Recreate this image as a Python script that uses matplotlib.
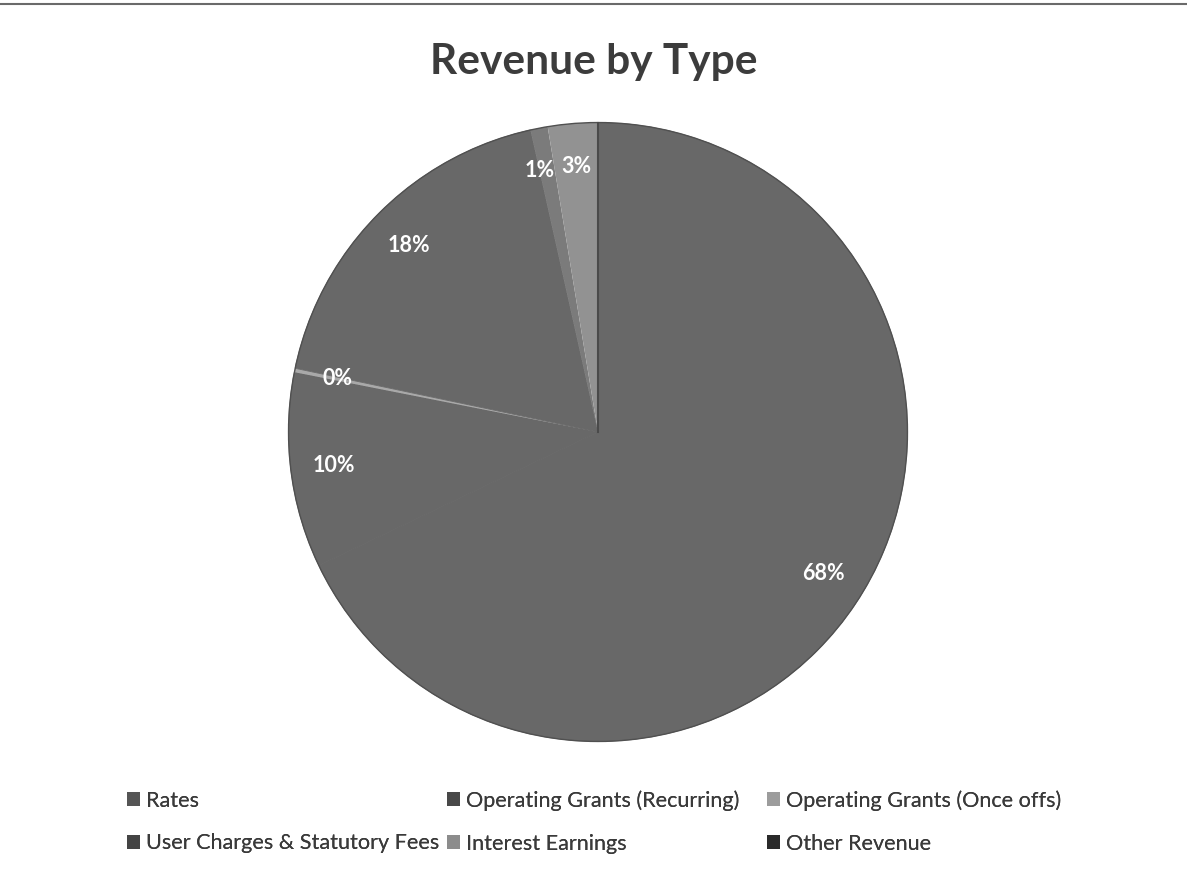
import matplotlib.pyplot as plt
from matplotlib.lines import Line2D
from matplotlib.patches import Patch

plt.rcParams["font.family"] = ["Lato", "DejaVu Sans"]

categories = [
    "Rates",
    "Operating Grants (Recurring)",
    "Operating Grants (Once offs)",
    "User Charges & Statutory Fees",
    "Interest Earnings",
    "Other Revenue",
]
shares = [67.9, 10.2, 0.2, 18.2, 0.9, 2.6]
colors = ["#686868", "#686868", "#a9a9a9", "#686868", "#7b7b7b", "#929292"]
legend_colors = ["#555555", "#484848", "#9c9c9c", "#444444", "#8c8c8c", "#2a2a2a"]

W, H = 1187, 877
fig = plt.figure(figsize=(W / 100, H / 100), dpi=100)
fig.patch.set_facecolor("white")

cx, cy, r = 598, 432, 311
ax = fig.add_axes([(cx - r) / W, (H - cy - r) / H, 2 * r / W, 2 * r / H])

wedges, texts, autotexts = ax.pie(
    shares,
    colors=colors,
    startangle=90,
    counterclock=False,
    autopct="%.0f%%",
    pctdistance=0.86,
    wedgeprops=dict(linewidth=0),
    textprops=dict(color="white", fontsize=15.5, fontweight="bold"),
)
# hide the anti-aliasing seams between neighbouring wedges
for w, c in zip(wedges, colors):
    if c == "#686868":
        w.set_edgecolor(c)
        w.set_linewidth(0.6)

# the two thin slices at the top sit close; nudge the 1% label left
x, y = autotexts[4].get_position()
autotexts[4].set_position((x - 0.025, y))

ax.set_xlim(-1.005, 1.005)
ax.set_ylim(-1.005, 1.005)
ax.set_aspect("equal")

# dark rim around the pie
outline = plt.Circle((0, 0), 1.0, fill=False, edgecolor="#505050", linewidth=1.0)
ax.add_patch(outline)
# dark divider at twelve o'clock
ax.plot([0, 0], [0, 1], color="#4a4a4a", linewidth=1.5)

fig.text(0.5, 1 - 62 / H, "Revenue by Type", ha="center", va="center",
         fontsize=30.5, fontweight="bold", color="#3c3c3c")

# legend in three evenly spaced columns, filled row by row
handles = [Patch(facecolor=c, edgecolor="none") for c in legend_colors]
col_x = [127, 447, 767]
for col, x in enumerate(col_x):
    idx = [col, col + 3]
    leg = fig.legend(
        [handles[i] for i in idx],
        [categories[i] for i in idx],
        ncol=1,
        loc="center left",
        bbox_to_anchor=(x / W, 1 - 822 / H),
        borderaxespad=0,
        borderpad=0,
        frameon=False,
        fontsize=15.6,
        labelcolor="#3a3a3a",
        handlelength=0.6,
        handleheight=0.6,
        handletextpad=0.3,
        labelspacing=1.05,
    )
    fig.add_artist(leg)

fig.add_artist(Line2D([0, 1], [1 - 4 / H, 1 - 4 / H], color="#6a6a6a", linewidth=1.5))

fig.savefig("out.png", dpi=100, facecolor="white")
